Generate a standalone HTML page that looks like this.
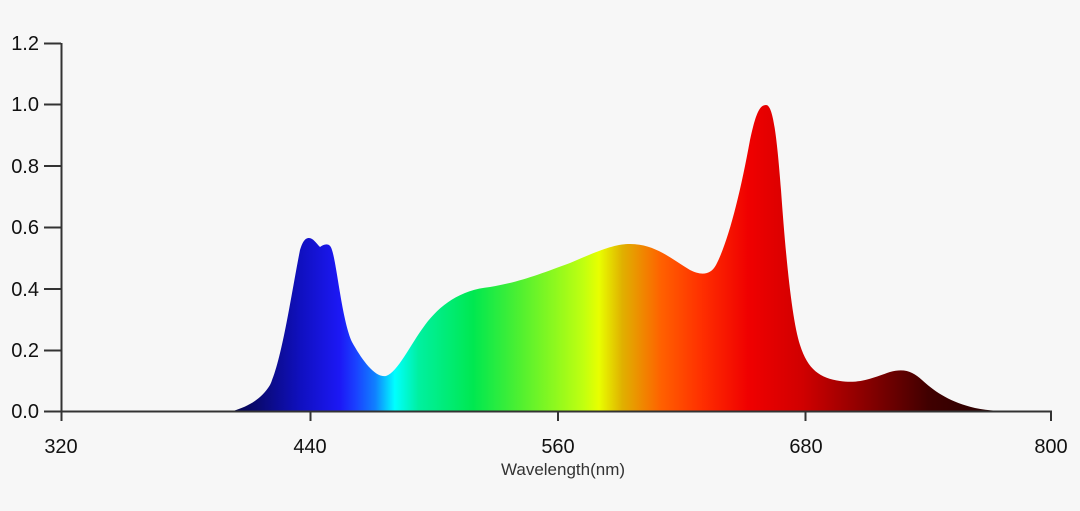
<!DOCTYPE html>
<html><head><meta charset="utf-8"><style>
html,body{margin:0;padding:0;background:#f7f7f7;}
svg{display:block;font-family:"Liberation Sans",sans-serif;}
</style></head><body>
<svg width="1080" height="511" viewBox="0 0 1080 511">
<defs>
<linearGradient id="g" gradientUnits="userSpaceOnUse" x1="230" y1="0" x2="1015" y2="0">
<stop offset="0" stop-color="#05054a"/>
<stop offset="0.04" stop-color="#0a0a78"/>
<stop offset="0.09" stop-color="#1010c0"/>
<stop offset="0.14" stop-color="#1c18f5"/>
<stop offset="0.16" stop-color="#1a40ff"/>
<stop offset="0.185" stop-color="#1080ff"/>
<stop offset="0.21" stop-color="#00ffff"/>
<stop offset="0.24" stop-color="#00f0a0"/>
<stop offset="0.31" stop-color="#00e850"/>
<stop offset="0.37" stop-color="#50f030"/>
<stop offset="0.45" stop-color="#c0ff10"/>
<stop offset="0.47" stop-color="#e8ff00"/>
<stop offset="0.50" stop-color="#e0b000"/>
<stop offset="0.55" stop-color="#ff6000"/>
<stop offset="0.60" stop-color="#ff3000"/>
<stop offset="0.66" stop-color="#f00000"/>
<stop offset="0.73" stop-color="#d00000"/>
<stop offset="0.82" stop-color="#800000"/>
<stop offset="0.89" stop-color="#400000"/>
<stop offset="1" stop-color="#200000"/>
</linearGradient>
</defs>
<path fill="url(#g)" d="M233,411 C250,406 262,398 270,385 C282,360 292,290 300,250 C303,240 306,238 309,238 C313,238 316,243 320,247 C324,244 330,242 332,250 C337,265 342,320 352,342 C362,360 375,378 386,376 C398,372 410,345 425,325 C440,305 460,290 490,287 C520,282 540,274 570,263 C600,250 615,244 630,244 C655,244 670,258 690,270 C700,275 710,276 716,265 C728,242 740,195 750,140 C756,112 760,105 766,105 C772,105 776,125 781,190 C786,260 792,320 800,345 C808,370 820,378 840,381 C860,384 872,378 890,372 C905,368 913,372 922,380 C935,392 950,402 975,408 C990,411 1000,411 1012,411 Z"/>
<g stroke="#333" stroke-width="2" fill="none">
<line x1="61.5" y1="43" x2="61.5" y2="421"/>
<line x1="61" y1="411.5" x2="1052" y2="411.5"/>
<line x1="44" y1="43.5" x2="61" y2="43.5"/>
<line x1="44" y1="104.5" x2="61" y2="104.5"/>
<line x1="44" y1="166" x2="61" y2="166"/>
<line x1="44" y1="227.5" x2="61" y2="227.5"/>
<line x1="44" y1="289" x2="61" y2="289"/>
<line x1="44" y1="350.5" x2="61" y2="350.5"/>
<line x1="44" y1="411.5" x2="61" y2="411.5"/>
<line x1="310.5" y1="411" x2="310.5" y2="421"/>
<line x1="558" y1="411" x2="558" y2="421"/>
<line x1="805.5" y1="411" x2="805.5" y2="421"/>
<line x1="1051" y1="411" x2="1051" y2="421"/>
</g>
<g font-size="20" fill="#111" text-anchor="end">
<text x="39" y="50">1.2</text>
<text x="39" y="111">1.0</text>
<text x="39" y="173">0.8</text>
<text x="39" y="234">0.6</text>
<text x="39" y="296">0.4</text>
<text x="39" y="357">0.2</text>
<text x="39" y="418">0.0</text>
</g>
<g font-size="20" fill="#111" text-anchor="middle">
<text x="61" y="453">320</text>
<text x="310" y="453">440</text>
<text x="558" y="453">560</text>
<text x="806" y="453">680</text>
<text x="1051" y="453">800</text>
</g>
<text x="563" y="475" font-size="17" fill="#333" text-anchor="middle">Wavelength(nm)</text>
</svg>
</body></html>
